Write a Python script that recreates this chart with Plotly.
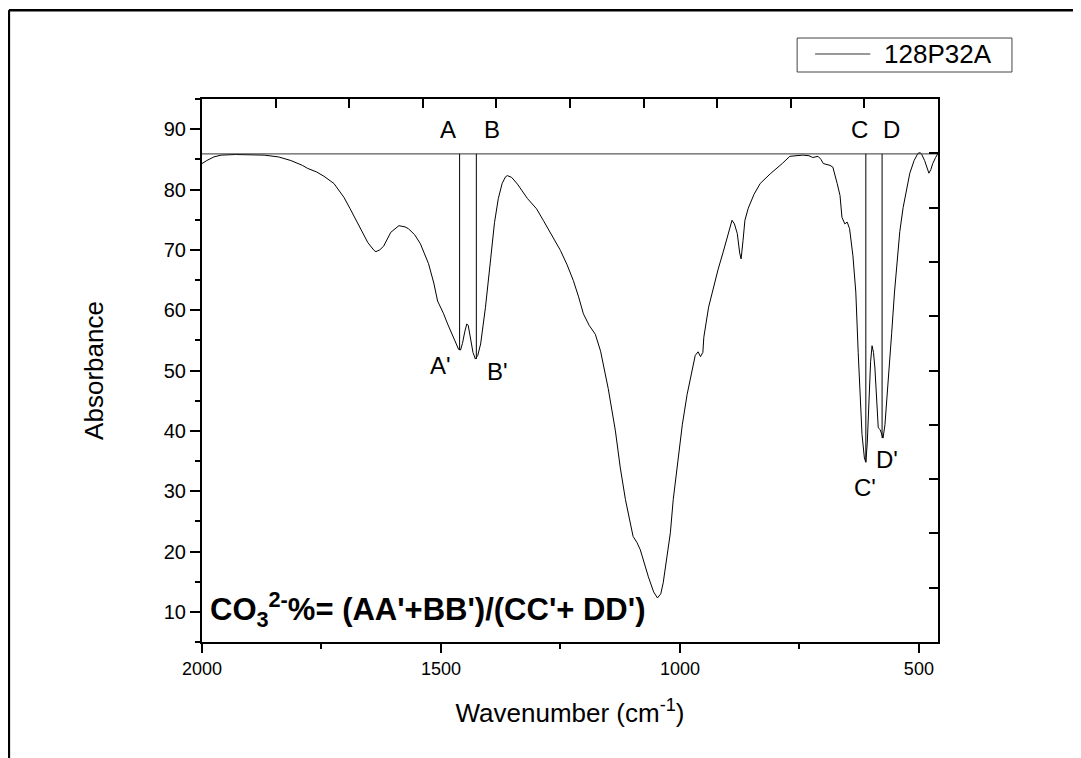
import plotly.graph_objects as go

# ---- data ----
wavenumber = [2000, 1990, 1975, 1960, 1930, 1900, 1870, 1840, 1814, 1790, 1779, 1760, 1745, 1724,
              1703, 1690, 1674, 1653, 1640, 1636, 1628, 1620, 1605, 1588, 1575, 1568, 1555, 1543,
              1526, 1515, 1507, 1495, 1486, 1475, 1469, 1463, 1459, 1455, 1450, 1446, 1443, 1438,
              1433, 1428, 1423, 1417, 1407, 1396, 1388, 1380, 1372, 1365, 1361, 1352, 1340, 1319,
              1300, 1286, 1268, 1250, 1236, 1223, 1212, 1202, 1190, 1177, 1166, 1150, 1135, 1125,
              1114, 1105, 1098, 1090, 1083, 1066, 1055, 1047, 1040, 1035, 1028, 1020, 1014, 1005,
              995, 985, 975, 968, 962, 957, 952, 950, 940, 930, 920, 910, 900, 891, 886, 880, 875,
              872, 868, 864, 857, 845, 832, 811, 786, 770, 743, 730, 722, 716, 711, 705, 700, 686,
              680, 671, 665, 661, 655, 650, 645, 638, 632, 627, 622, 619, 614, 611, 608, 605, 601,
              598, 595, 592, 588, 585, 581, 578, 575, 571, 567, 562, 557, 551, 546, 540, 533, 526,
              519, 510, 502, 497, 494, 488, 483, 479, 475, 471, 465, 460]
absorbance = [84.3, 84.8, 85.4, 85.7, 85.8, 85.8, 85.7, 85.4, 84.8, 84.0, 83.5, 82.9, 82.2, 81.0,
              78.7, 76.8, 74.4, 71.2, 69.9, 69.7, 70.0, 70.6, 72.9, 74.0, 73.8, 73.5, 72.5, 71.0,
              67.7, 64.5, 61.5, 59.5, 57.7, 55.6, 54.4, 53.5, 53.4, 54.5, 56.5, 57.7, 57.5, 55.4,
              53.0, 51.9, 52.5, 54.4, 60.4, 68.5, 74.5, 78.5, 81.0, 82.1, 82.3, 82.0, 80.9, 78.5,
              76.8, 74.9, 72.5, 69.9, 67.5, 64.9, 62.2, 59.4, 57.5, 56.0, 53.2, 47.0, 40.0, 34.0,
              28.6, 25.0, 22.5, 21.5, 20.3, 15.8, 13.3, 12.3, 13.0, 14.8, 18.5, 23.1, 28.6, 35.0,
              41.0, 46.0, 50.0, 52.5, 53.1, 52.3, 53.0, 55.5, 60.5, 63.8, 66.8, 69.5, 72.5, 74.9, 74.3, 72.7, 69.5,
              68.5, 71.5, 74.9, 76.9, 79.2, 81.0, 82.6, 84.3, 85.5, 85.7, 85.6, 85.3, 85.4, 85.5, 85.0, 84.3, 84.0,
              83.7, 81.0, 79.0, 75.4, 74.3, 74.6, 73.5, 69.0, 63.0, 53.0, 44.0, 39.4, 35.5, 34.8, 38.0, 44.9, 51.5,
              54.1, 53.0, 50.4, 44.0, 40.5, 40.2, 39.5, 38.8, 41.0, 44.9, 50.5, 56.1, 63.0, 68.2, 73.0, 77.0, 80.2,
              82.7, 84.8, 86.0, 86.1, 85.8, 84.8, 83.5, 82.7, 83.3, 84.3, 85.3, 86.0]
series_name = "128P32A"

baseline = 85.9
peak_labels = ["A", "B", "C", "D"]
peak_wn = [1461, 1426, 611, 577]
peak_bottom = [53.4, 51.9, 34.8, 38.8]

x_ticks = [2000, 1500, 1000, 500]
y_ticks = [10, 20, 30, 40, 50, 60, 70, 80, 90]

FONT = "Arial, Liberation Sans, sans-serif"

fig = go.Figure()

fig.add_trace(go.Scatter(x=wavenumber, y=absorbance, mode="lines", name=series_name,
                         line=dict(color="black", width=1), showlegend=False))

# baseline across the plot
fig.add_trace(go.Scatter(x=[wavenumber[0], wavenumber[-1]], y=[baseline, baseline], mode="lines",
                         line=dict(color="#333333", width=1), showlegend=False, hoverinfo="skip"))

# vertical drop lines A-A', B-B', C-C', D-D'
vx, vy = [], []
for w, b in zip(peak_wn, peak_bottom):
    vx += [w, w, None]
    vy += [baseline, b, None]
fig.add_trace(go.Scatter(x=vx, y=vy, mode="lines", line=dict(color="black", width=1),
                         showlegend=False, hoverinfo="skip"))

# dummy trace to realise top/right frame axes
fig.add_trace(go.Scatter(x=[None], y=[None], xaxis="x2", yaxis="y2", mode="lines",
                         showlegend=False, hoverinfo="skip"))

annotations = []
top_shift = [-12, 16, -6, 9]
bot_shift = [(-19, -16), (21, -12), (-1, -25), (5, -21)]
for lab, w, b, ts, (bx, by) in zip(peak_labels, peak_wn, peak_bottom, top_shift, bot_shift):
    annotations.append(dict(x=w, y=baseline, xref="x", yref="y", text=lab, showarrow=False,
                            xshift=ts, yshift=24, font=dict(family=FONT, size=24, color="black")))
    annotations.append(dict(x=w, y=b, xref="x", yref="y", text=lab + "'", showarrow=False,
                            xshift=bx, yshift=by, font=dict(family=FONT, size=24, color="black")))

annotations.append(dict(x=0.008, y=10.4, xref="paper", yref="y", xanchor="left", yanchor="middle",
                        text="<b>CO<sub>3</sub><sup>2-</sup>%= (AA'+BB')/(CC'+ DD')</b>",
                        showarrow=False, font=dict(family=FONT, size=31, color="black")))

# manual legend (box, line sample, label)
annotations.append(dict(x=0.924, y=1.0829, xref="paper", yref="paper", xanchor="left", yanchor="middle",
                        text=series_name, showarrow=False, font=dict(family=FONT, size=26, color="black")))

frame_line = dict(color="black", width=2.5)
shapes = [
    dict(type="line", xref="paper", yref="paper", x0=-0.2624, x1=1.25, y0=1.1633, y1=1.1633, line=frame_line),
    dict(type="line", xref="paper", yref="paper", x0=-0.2624, x1=-0.2624, y0=1.1633, y1=-0.3, line=frame_line),
    dict(type="rect", xref="paper", yref="paper", x0=0.8086, x1=1.1005, y0=1.0497, y1=1.1123,
         line=dict(color="#444444", width=1), fillcolor="white"),
    dict(type="line", xref="paper", yref="paper", x0=0.833, x1=0.908, y0=1.0829, y1=1.0829,
         line=dict(color="#333333", width=1)),
]

axis_common = dict(showline=True, linecolor="black", linewidth=2, showgrid=False, zeroline=False,
                   ticks="outside", tickcolor="black", tickwidth=2)

fig.update_layout(
    width=1081, height=758,
    margin=dict(l=193.5, r=151, t=91, b=124),
    paper_bgcolor="white", plot_bgcolor="white",
    font=dict(family=FONT, color="black"),
    xaxis=dict(range=[2000, 460], tickvals=x_ticks, ticklen=9,
               minor=dict(ticks="outside", dtick=250, tick0=0, ticklen=5, tickcolor="black", tickwidth=2),
               tickfont=dict(size=18), title=dict(text="Wavenumber (cm<sup>-1</sup>)", font=dict(size=26), standoff=26),
               **axis_common),
    yaxis=dict(range=[5, 95], tickvals=y_ticks, ticklen=10,
               minor=dict(ticks="outside", dtick=5, tick0=0, ticklen=5, tickcolor="black", tickwidth=2),
               tickfont=dict(size=20), title=dict(text="Absorbance", font=dict(size=26), standoff=53),
               **axis_common),
    xaxis2=dict(overlaying="x", side="top", range=[0, 10], dtick=1, ticks="inside", ticklen=9,
                tickwidth=2, tickcolor="black", showticklabels=False, showline=True, linecolor="black",
                linewidth=2, showgrid=False, zeroline=False),
    yaxis2=dict(overlaying="y", side="right", range=[0, 10], dtick=1, ticks="inside", ticklen=9,
                tickwidth=2, tickcolor="black", showticklabels=False, showline=True, linecolor="black",
                linewidth=2, showgrid=False, zeroline=False),
    showlegend=False,
    annotations=annotations,
    shapes=shapes,
)

fig.write_html("out.html")
